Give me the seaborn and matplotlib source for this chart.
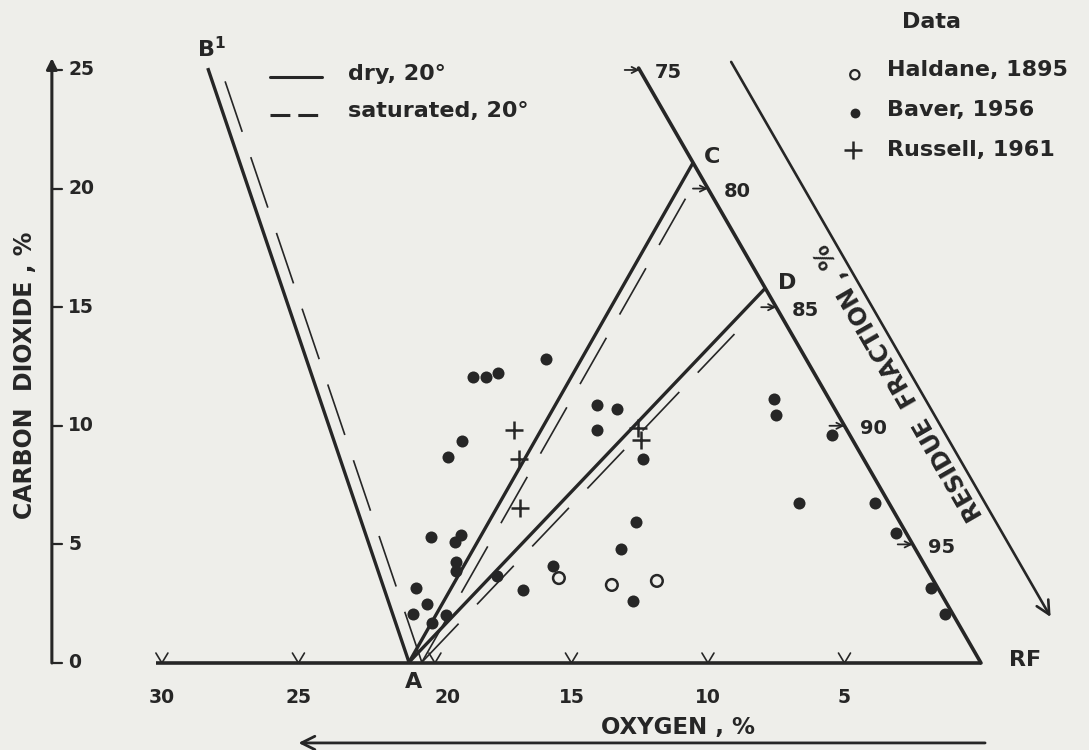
import numpy as np
import pandas as pd
import seaborn as sns
import matplotlib.pyplot as plt

# ---- data (oxygen %, carbon dioxide %) ----
co2_ticks = [0, 5, 10, 15, 20, 25]
co2_labels = ["0", "5", "10", "15", "20", "25"]
o2_ticks = [30, 25, 20, 15, 10, 5]
o2_labels = ["30", "25", "20", "15", "10", "5"]
rf_ticks = [75, 80, 85, 90, 95]

baver_o2 = [15.93, 18.61, 18.13, 17.69, 14.07, 13.33, 14.07, 19.01, 19.52, 12.64,
            13.19, 15.68, 16.78, 12.75, 20.15, 19.27, 19.05, 19.23, 19.23, 17.73,
            20.70, 20.29, 20.81, 19.60, 20.11, 12.38, 7.58, 7.51, 5.46, 6.67,
            3.88, 3.11, 1.83, 1.32]
baver_co2 = [12.82, 12.06, 12.06, 12.23, 10.88, 10.71, 9.82, 9.36, 8.68, 5.94,
             4.81, 4.09, 3.08, 2.61, 5.31, 5.10, 5.40, 4.26, 3.88, 3.67,
             3.16, 2.49, 2.07, 2.02, 1.69, 8.60, 11.13, 10.46, 9.61, 6.75,
             6.75, 5.48, 3.16, 2.07]
haldane_o2 = [15.46, 13.52, 11.87]
haldane_co2 = [3.58, 3.29, 3.46]
russell_o2 = [17.11, 16.92, 16.89, 12.56, 12.45]
russell_co2 = [9.82, 8.60, 6.53, 9.91, 9.40]

# corner points of the diagram
A = (20.95, 0.03)
B1 = (28.32, 25.08)
C = (10.55, 21.08)
D = (7.9, 15.8)
sat_shift = 0.47          # saturated air at 20 C sits this much lower in O2
sat_top_co2 = [25.08, 19.8, 14.3]
rf_slope = 0.5            # residue fraction scale: O2 = 0.5 * CO2
rf_offset = 3.52          # second (arrow) line of the RF scale

ink = "#262626"
paper = "#eeeeea"

sns.set_theme(style="white")
plt.rcParams['font.family'] = ['DejaVu Sans']
plt.rcParams['font.weight'] = 'bold'

fig = plt.figure(figsize=(10.89, 7.5), dpi=100, facecolor=paper)
ax = fig.add_axes([0, 0, 1, 1])
ax.set_facecolor(paper)
ax.set_xlim(35.93, -3.956)
ax.set_ylim(-3.668, 27.95)
ax.axis('off')


def o2_at(p, q, co2):
    return p[0] + (q[0] - p[0]) * (co2 - p[1]) / (q[1] - p[1])


# ---- carbon dioxide axis ----
yax = 34.03
ax.annotate('', xy=(yax, 25.5), xytext=(yax, 0), zorder=3,
            arrowprops=dict(arrowstyle='-|>', lw=2.2, color=ink,
                            mutation_scale=16, shrinkA=0, shrinkB=0))
for t, lab in zip(co2_ticks, co2_labels):
    ax.plot([yax, yax - 0.37], [t, t], color=ink, lw=1.6)
    ax.text(yax - 0.6, t, lab, fontsize=13.5, color=ink, ha='left', va='center')
ax.text(35.02, 12.14, "CARBON  DIOXIDE , %", rotation=90, fontsize=17,
        color=ink, ha='center', va='center')

# ---- oxygen axis ----
ax.plot([30.2, 0], [0, 0], color=ink, lw=2.6, solid_capstyle='butt')
for t in o2_ticks:
    ax.plot([t + 0.22, t, t - 0.22], [0.42, 0, 0.42], color=ink, lw=1.2)
for t, lab in zip(o2_ticks, o2_labels):
    xt = t - 0.45 if t == 20 else t
    ax.text(xt, -1.45, lab, fontsize=13.5, color=ink, ha='center', va='center')
ax.text(11.1, -2.74, "OXYGEN , %", fontsize=16.5, color=ink, ha='center', va='center')
ax.annotate('', xy=(25.0, -3.37), xytext=(-0.15, -3.37),
            arrowprops=dict(arrowstyle='->', lw=2.0, color=ink,
                            mutation_scale=24, shrinkA=0, shrinkB=0))

# ---- dry lines from A ----
for end in [B1, C, D]:
    ax.plot([A[0], end[0]], [A[1], end[1]], color=ink, lw=2.4, solid_capstyle='butt')

# ---- saturated lines (dashed, shifted) ----
for end, top in zip([B1, C, D], sat_top_co2):
    ax.plot([A[0] - sat_shift, o2_at(A, end, top) - sat_shift], [A[1], top],
            color=ink, lw=1.2, dashes=(32, 16))

# ---- residue fraction scale ----
rf_co2 = np.array([0, 25.08])
ax.plot(rf_slope * rf_co2, rf_co2, color=ink, lw=2.6)
for rf in rf_ticks:
    c = 100 - rf
    xl = rf_slope * c
    ax.annotate('', xy=(xl, c), xytext=(xl + 0.55, c),
                arrowprops=dict(arrowstyle='->', lw=1.3, color=ink,
                                mutation_scale=11, shrinkA=0, shrinkB=0))
    ax.text(xl - 1.06, c - 0.12, str(rf), fontsize=14, color=ink,
            ha='center', va='center')
ax.annotate('', xy=(rf_slope * 1.94 - rf_offset, 1.94),
            xytext=(rf_slope * 25.34 - rf_offset, 25.34),
            arrowprops=dict(arrowstyle='->', lw=1.9, color=ink,
                            mutation_scale=24, shrinkA=0, shrinkB=0))
p1 = ax.transData.transform((0, 0))
p2 = ax.transData.transform((12.5, 25))
ang = np.degrees(np.arctan2(p2[1] - p1[1], p2[0] - p1[0]))
ax.text(3.0, 11.85, "RESIDUE  FRACTION , %", rotation=ang, rotation_mode='anchor',
        fontsize=17, color=ink, ha='center', va='center')

# ---- point labels ----
ax.text(20.8, -0.8, "A", fontsize=16, color=ink, ha='center', va='center')
ax.text(28.2, 25.9, r"B$^{\mathbf{1}}$", fontsize=16, color=ink, ha='center', va='center')
ax.text(9.85, 21.33, "C", fontsize=16, color=ink, ha='center', va='center')
ax.text(7.1, 16.0, "D", fontsize=16, color=ink, ha='center', va='center')
ax.text(-1.61, 0.13, "RF", fontsize=16, color=ink, ha='center', va='center')

# ---- data points ----
df_b = pd.DataFrame({"o2": baver_o2, "co2": baver_co2})
df_h = pd.DataFrame({"o2": haldane_o2, "co2": haldane_co2})
df_r = pd.DataFrame({"o2": russell_o2, "co2": russell_co2})
sns.scatterplot(data=df_b, x="o2", y="co2", ax=ax, color=ink, s=75,
                linewidth=0, zorder=4)
sns.scatterplot(data=df_h, x="o2", y="co2", ax=ax, color=ink, s=70,
                linewidth=1.8, zorder=4)
ax.collections[-1].set_facecolor('none')
ax.collections[-1].set_edgecolor(ink)
sns.scatterplot(data=df_r, x="o2", y="co2", ax=ax, color=ink, marker='+',
                s=150, linewidth=1.8, zorder=4)

# ---- legends ----
ax.plot([26.04, 24.14], [24.7, 24.7], color=ink, lw=2.2)
ax.plot([26.04, 24.14], [23.1, 23.1], color=ink, lw=2.2, dashes=(6.5, 2.6))
ax.text(23.19, 24.85, "dry, 20°", fontsize=16, color=ink, ha='left', va='center')
ax.text(23.19, 23.25, "saturated, 20°", fontsize=16, color=ink, ha='left', va='center')

ax.text(1.8, 27.02, "Data", fontsize=16, color=ink, ha='center', va='center')
ax.scatter([4.62], [24.8], s=45, facecolors='none', edgecolors=ink, linewidths=1.6)
ax.scatter([4.62], [23.2], s=50, color=ink, linewidths=0)
ax.scatter([4.7], [21.63], s=150, color=ink, marker='+', linewidths=1.8)
ax.text(3.44, 25.0, "Haldane, 1895", fontsize=16, color=ink, ha='left', va='center')
ax.text(3.44, 23.31, "Baver, 1956", fontsize=16, color=ink, ha='left', va='center')
ax.text(3.44, 21.63, "Russell, 1961", fontsize=16, color=ink, ha='left', va='center')

ax.set_xlabel("")
ax.set_ylabel("")
fig.savefig("out.png", dpi=100, facecolor=paper)
